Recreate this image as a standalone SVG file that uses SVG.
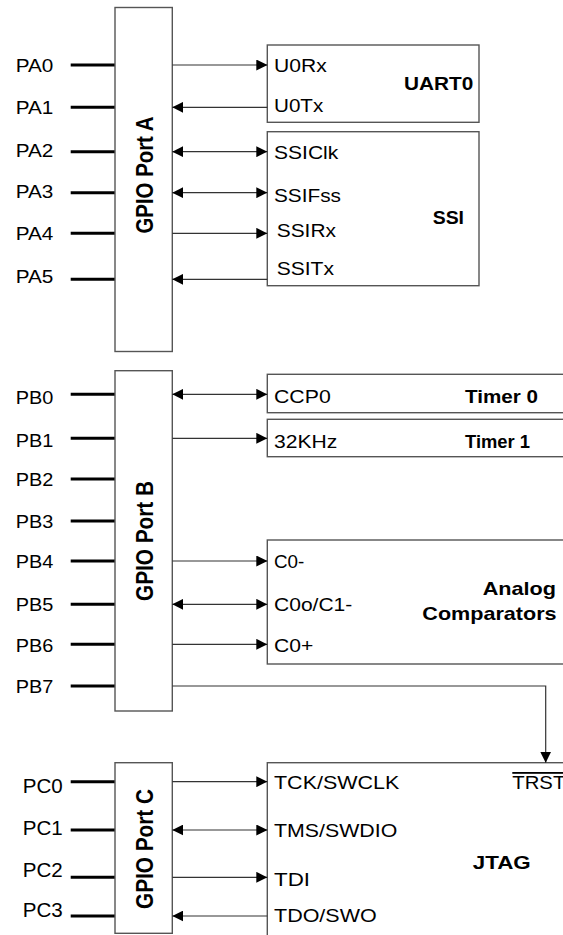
<svg xmlns="http://www.w3.org/2000/svg" width="563" height="935" viewBox="0 0 563 935">
<style>
  text { font-family: "Liberation Sans", Arial, sans-serif; fill: #000; }
  .pin { font-size: 18.5px; }
  .pinc { font-size: 19.5px; }
  .sig { font-size: 18px; }
  .ttl { font-size: 19px; font-weight: bold; }
  .port { font-size: 21px; font-weight: bold; }
  .box { fill: #fff; stroke: #555; stroke-width: 1.4; }
  .pline { stroke: #000; stroke-width: 3; fill: none; }
  .conn { stroke: #333; stroke-width: 1.2; fill: none; }
  .e { marker-end: url(#ah); }
  .s { marker-start: url(#ah); }
</style>
<defs>
  <marker id="ah" markerUnits="userSpaceOnUse" markerWidth="11" markerHeight="11" refX="11" refY="5.5" orient="auto-start-reverse" viewBox="0 0 11 11">
    <path d="M0,0 L11,5.5 L0,11 z" fill="#000"/>
  </marker>
</defs>

<g id="pins">
  <g id="pins-a">
    <line class="pline" x1="70.7" y1="65" x2="115" y2="65"/>
    <line class="pline" x1="70.7" y1="107.3" x2="115" y2="107.3"/>
    <line class="pline" x1="70.7" y1="151.7" x2="115" y2="151.7"/>
    <line class="pline" x1="70.7" y1="192.7" x2="115" y2="192.7"/>
    <line class="pline" x1="70.7" y1="233.3" x2="115" y2="233.3"/>
    <line class="pline" x1="70.7" y1="279.3" x2="115" y2="279.3"/>
    <text class="pin" x="15.7" y="71.7" textLength="37.6" lengthAdjust="spacingAndGlyphs">PA0</text>
    <text class="pin" x="15.7" y="114" textLength="37.6" lengthAdjust="spacingAndGlyphs">PA1</text>
    <text class="pin" x="15.7" y="156.7" textLength="37.6" lengthAdjust="spacingAndGlyphs">PA2</text>
    <text class="pin" x="15.7" y="198.3" textLength="37.6" lengthAdjust="spacingAndGlyphs">PA3</text>
    <text class="pin" x="15.7" y="240" textLength="37.6" lengthAdjust="spacingAndGlyphs">PA4</text>
    <text class="pin" x="15.7" y="283.3" textLength="37.6" lengthAdjust="spacingAndGlyphs">PA5</text>
  </g>
  <g id="pins-b">
    <line class="pline" x1="70.7" y1="394.3" x2="115" y2="394.3"/>
    <line class="pline" x1="70.7" y1="438.3" x2="115" y2="438.3"/>
    <line class="pline" x1="70.7" y1="479" x2="115" y2="479"/>
    <line class="pline" x1="70.7" y1="521" x2="115" y2="521"/>
    <line class="pline" x1="70.7" y1="561" x2="115" y2="561"/>
    <line class="pline" x1="70.7" y1="604.3" x2="115" y2="604.3"/>
    <line class="pline" x1="70.7" y1="644.3" x2="115" y2="644.3"/>
    <line class="pline" x1="70.7" y1="686" x2="115" y2="686"/>
    <text class="pin" x="15.7" y="404" textLength="37.6" lengthAdjust="spacingAndGlyphs">PB0</text>
    <text class="pin" x="15.7" y="447.3" textLength="37.6" lengthAdjust="spacingAndGlyphs">PB1</text>
    <text class="pin" x="15.7" y="486" textLength="37.6" lengthAdjust="spacingAndGlyphs">PB2</text>
    <text class="pin" x="15.7" y="528.3" textLength="37.6" lengthAdjust="spacingAndGlyphs">PB3</text>
    <text class="pin" x="15.7" y="568.3" textLength="37.6" lengthAdjust="spacingAndGlyphs">PB4</text>
    <text class="pin" x="15.7" y="610.7" textLength="37.6" lengthAdjust="spacingAndGlyphs">PB5</text>
    <text class="pin" x="15.7" y="651.7" textLength="37.6" lengthAdjust="spacingAndGlyphs">PB6</text>
    <text class="pin" x="15.7" y="693.3" textLength="37.6" lengthAdjust="spacingAndGlyphs">PB7</text>
  </g>
  <g id="pins-c">
    <line class="pline" x1="70.7" y1="781.7" x2="115" y2="781.7"/>
    <line class="pline" x1="70.7" y1="830" x2="115" y2="830"/>
    <line class="pline" x1="70.7" y1="877.3" x2="115" y2="877.3"/>
    <line class="pline" x1="70.7" y1="916" x2="115" y2="916"/>
    <text class="pinc" x="22.7" y="792.7" textLength="40" lengthAdjust="spacingAndGlyphs">PC0</text>
    <text class="pinc" x="22.7" y="835" textLength="40" lengthAdjust="spacingAndGlyphs">PC1</text>
    <text class="pinc" x="22.7" y="877" textLength="40" lengthAdjust="spacingAndGlyphs">PC2</text>
    <text class="pinc" x="22.7" y="917" textLength="40" lengthAdjust="spacingAndGlyphs">PC3</text>
  </g>
</g>

<g id="port-a">
  <rect class="box" x="115" y="7.5" width="57.3" height="344"/>
  <text class="port" text-anchor="middle" textLength="117" lengthAdjust="spacingAndGlyphs" transform="translate(152.5,175) rotate(-90) scale(1,1.1)">GPIO Port A</text>
</g>
<g id="port-b">
  <rect class="box" x="115" y="370.7" width="57.3" height="340.3"/>
  <text class="port" text-anchor="middle" textLength="120" lengthAdjust="spacingAndGlyphs" transform="translate(152.5,541) rotate(-90) scale(1,1.1)">GPIO Port B</text>
</g>
<g id="port-c">
  <rect class="box" x="115" y="762.7" width="57.3" height="170.6"/>
  <text class="port" text-anchor="middle" textLength="120" lengthAdjust="spacingAndGlyphs" transform="translate(152.5,849) rotate(-90) scale(1,1.1)">GPIO Port C</text>
</g>

<g id="uart0">
  <rect class="box" x="267.3" y="45" width="211.7" height="77.3"/>
  <text class="sig" x="274" y="72.3" textLength="52.7" lengthAdjust="spacingAndGlyphs">U0Rx</text>
  <text class="sig" x="274" y="112" textLength="49.3" lengthAdjust="spacingAndGlyphs">U0Tx</text>
  <text class="ttl" x="404" y="90" textLength="69.3" lengthAdjust="spacingAndGlyphs">UART0</text>
</g>
<g id="ssi">
  <rect class="box" x="267.3" y="131.7" width="211.7" height="154"/>
  <text class="sig" x="274" y="159" textLength="64.3" lengthAdjust="spacingAndGlyphs">SSIClk</text>
  <text class="sig" x="274" y="201.5" textLength="67" lengthAdjust="spacingAndGlyphs">SSIFss</text>
  <text class="sig" x="276.7" y="237" textLength="59.3" lengthAdjust="spacingAndGlyphs">SSIRx</text>
  <text class="sig" x="276.7" y="275" textLength="57.3" lengthAdjust="spacingAndGlyphs">SSITx</text>
  <text class="ttl" x="432.7" y="224" textLength="31.3" lengthAdjust="spacingAndGlyphs">SSI</text>
</g>
<g id="timer0">
  <rect class="box" x="267.3" y="374.3" width="310" height="38.4"/>
  <text class="sig" x="274" y="402.7" textLength="56.7" lengthAdjust="spacingAndGlyphs">CCP0</text>
  <text class="ttl" x="465" y="402.7" textLength="73" lengthAdjust="spacingAndGlyphs">Timer 0</text>
</g>
<g id="timer1">
  <rect class="box" x="267.3" y="419.3" width="310" height="37.4"/>
  <text class="sig" x="274" y="447.7" textLength="63.3" lengthAdjust="spacingAndGlyphs">32KHz</text>
  <text class="ttl" x="465" y="447.7" textLength="65" lengthAdjust="spacingAndGlyphs">Timer 1</text>
</g>
<g id="analog">
  <rect class="box" x="267.3" y="540" width="310" height="124"/>
  <text class="sig" x="274" y="568" textLength="30.3" lengthAdjust="spacingAndGlyphs">C0-</text>
  <text class="sig" x="274" y="610.5" textLength="78.3" lengthAdjust="spacingAndGlyphs">C0o/C1-</text>
  <text class="sig" x="274" y="651.5" textLength="39.3" lengthAdjust="spacingAndGlyphs">C0+</text>
  <text class="ttl" x="482.7" y="595" textLength="73.3" lengthAdjust="spacingAndGlyphs">Analog</text>
  <text class="ttl" x="422.3" y="620" textLength="134.3" lengthAdjust="spacingAndGlyphs">Comparators</text>
</g>
<g id="jtag">
  <rect class="box" x="267.3" y="762.7" width="310" height="190"/>
  <text class="sig" x="274" y="789" textLength="125.3" lengthAdjust="spacingAndGlyphs">TCK/SWCLK</text>
  <text class="sig" x="274" y="837" textLength="123.3" lengthAdjust="spacingAndGlyphs">TMS/SWDIO</text>
  <text class="sig" x="274" y="886" textLength="36" lengthAdjust="spacingAndGlyphs">TDI</text>
  <text class="sig" x="274" y="922" textLength="102.7" lengthAdjust="spacingAndGlyphs">TDO/SWO</text>
  <text class="ttl" x="472.7" y="869" textLength="58" lengthAdjust="spacingAndGlyphs">JTAG</text>
  <text class="sig" x="512.3" y="789" textLength="53" lengthAdjust="spacingAndGlyphs" text-decoration="overline">TRST</text>
</g>

<g id="connectors">
  <line class="conn e" x1="172.3" y1="65" x2="267.3" y2="65"/>
  <line class="conn s" x1="172.3" y1="107.3" x2="267.3" y2="107.3"/>
  <line class="conn s e" x1="172.3" y1="151.7" x2="267.3" y2="151.7"/>
  <line class="conn s e" x1="172.3" y1="192.7" x2="267.3" y2="192.7"/>
  <line class="conn e" x1="172.3" y1="233.3" x2="267.3" y2="233.3"/>
  <line class="conn s" x1="172.3" y1="279.3" x2="267.3" y2="279.3"/>

  <line class="conn s e" x1="172.3" y1="394.3" x2="267.3" y2="394.3"/>
  <line class="conn e" x1="172.3" y1="438.3" x2="267.3" y2="438.3"/>
  <line class="conn e" x1="172.3" y1="561" x2="267.3" y2="561"/>
  <line class="conn s e" x1="172.3" y1="604.3" x2="267.3" y2="604.3"/>
  <line class="conn e" x1="172.3" y1="644.3" x2="267.3" y2="644.3"/>
  <polyline class="conn e" points="172.3,686 545.7,686 545.7,762.7"/>

  <line class="conn e" x1="172.3" y1="781.7" x2="267.3" y2="781.7"/>
  <line class="conn s e" x1="172.3" y1="830" x2="267.3" y2="830"/>
  <line class="conn e" x1="172.3" y1="877.3" x2="267.3" y2="877.3"/>
  <line class="conn s" x1="172.3" y1="916" x2="267.3" y2="916"/>
</g>
</svg>
